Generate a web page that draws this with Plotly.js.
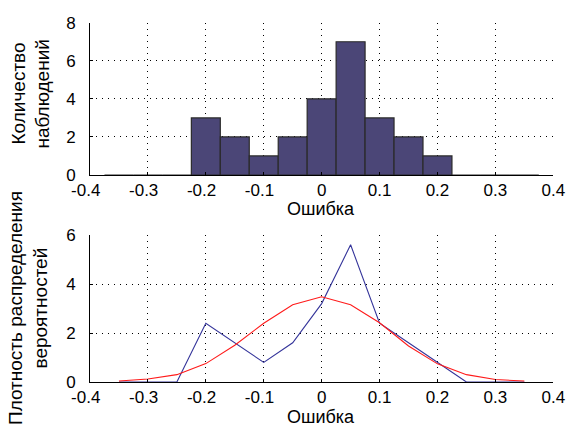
<!DOCTYPE html>
<html>
<head>
<meta charset="utf-8">
<script src="https://cdn.plot.ly/plotly-3.0.1.min.js"></script>
<style>html,body{margin:0;padding:0;background:#fff;}#chart{width:567px;height:428px;}</style>
</head>
<body>
<div id="chart"></div>
<script>
// Bin centers (error values)
const binCenters = [-0.35, -0.3, -0.25, -0.2, -0.15, -0.1, -0.05, 0, 0.05, 0.1, 0.15, 0.2, 0.25, 0.3, 0.35];
// Histogram counts
const counts = [0, 0, 0, 3, 2, 1, 2, 4, 7, 3, 2, 1, 0, 0, 0];
// Empirical density (blue line)
const empiricalDensity = [0, 0, 0, 2.4, 1.6, 0.8, 1.6, 3.2, 5.6, 2.4, 1.6, 0.8, 0, 0, 0];
// Normal density (red line)
const normalDensity = [0.04, 0.12, 0.3, 0.75, 1.5, 2.4, 3.15, 3.48, 3.15, 2.42, 1.47, 0.74, 0.3, 0.1, 0.04];

const xTickVals = [-0.4, -0.3, -0.2, -0.1, 0, 0.1, 0.2, 0.3, 0.4];
const xTickText = ['-0.4\u2002', '-0.3\u2002', '-0.2\u2002', '-0.1\u2002', '0', '0.1', '0.2', '0.3', '0.4'];
const yTopTicks = [0, 2, 4, 6, 8];
const yBotTicks = [0, 2, 4, 6];

const W = 567, H = 428;
const px = x => x / W;
const py = y => 1 - y / H;

const font = {family: "'Liberation Sans', Arial, sans-serif", size: 19, color: '#000'};
const xTitleFont = {family: "'Liberation Sans', Arial, sans-serif", size: 18, color: '#000'};
const tickFont = {family: "'Liberation Sans', Arial, sans-serif", size: 17, color: '#000'};

const xAxisCommon = {
  range: [-0.4, 0.4],
  tickmode: 'array', tickvals: xTickVals, ticktext: xTickText,
  showgrid: true, gridcolor: '#000', griddash: '1px,5px', gridwidth: 1,
  showline: true, linecolor: '#000', linewidth: 1,
  ticks: 'inside', ticklen: 3, tickcolor: '#000',
  zeroline: false, tickfont: tickFont, fixedrange: true,
  ticklabelstandoff: 0,
  domain: [px(90), px(553.3)]
};
const yAxisCommon = {
  showgrid: true, gridcolor: '#000', griddash: '1px,5px', gridwidth: 1,
  showline: true, linecolor: '#000', linewidth: 1,
  ticks: 'inside', ticklen: 3, tickcolor: '#000',
  zeroline: false, tickfont: tickFont, fixedrange: true,
  ticklabelstandoff: 10
};

const traces = [
  {
    type: 'bar', x: binCenters, y: counts, width: 0.05,
    marker: {color: '#4b4677', line: {color: '#2a2a2a', width: 1.2}},
    xaxis: 'x', yaxis: 'y', hoverinfo: 'skip'
  },
  {
    type: 'scatter', mode: 'lines', x: binCenters, y: empiricalDensity,
    line: {color: '#34349a', width: 1.1},
    xaxis: 'x2', yaxis: 'y2', hoverinfo: 'skip'
  },
  {
    type: 'scatter', mode: 'lines', x: binCenters, y: normalDensity,
    line: {color: '#ff1a1a', width: 1.1},
    xaxis: 'x2', yaxis: 'y2', hoverinfo: 'skip'
  }
];

const layout = {
  width: W, height: H,
  margin: {l: 0, r: 0, t: 0, b: 0},
  paper_bgcolor: '#fff', plot_bgcolor: '#fff',
  showlegend: false, bargap: 0, font: font,
  xaxis: Object.assign({}, xAxisCommon, {anchor: 'y'}),
  yaxis: Object.assign({}, yAxisCommon, {range: [0, 8], tickvals: yTopTicks, tickmode: 'array',
    domain: [py(175), py(22.7)], anchor: 'x'}),
  xaxis2: Object.assign({}, xAxisCommon, {anchor: 'y2'}),
  yaxis2: Object.assign({}, yAxisCommon, {range: [0, 6], tickvals: yBotTicks, tickmode: 'array',
    domain: [py(382), py(235)], anchor: 'x2'}),
  annotations: [
    {text: 'Ошибка', x: px(321), y: py(209), xref: 'paper', yref: 'paper', showarrow: false, xanchor: 'center', yanchor: 'middle', borderpad: 0, font: xTitleFont},
    {text: 'Ошибка', x: px(321), y: 0, xref: 'paper', yref: 'paper', showarrow: false, xanchor: 'center', yanchor: 'bottom', borderpad: 0, font: xTitleFont},
    {text: 'Количество', x: px(18.5), y: py(94), xref: 'paper', yref: 'paper', showarrow: false, xanchor: 'center', yanchor: 'middle', textangle: -90, font: font},
    {text: 'наблюдений', x: px(42.5), y: py(94), xref: 'paper', yref: 'paper', showarrow: false, xanchor: 'center', yanchor: 'middle', textangle: -90, font: font},
    {text: 'Плотность распределения', x: px(15), y: py(308), xref: 'paper', yref: 'paper', showarrow: false, xanchor: 'center', yanchor: 'middle', textangle: -90, font: font},
    {text: 'вероятностей', x: px(39.5), y: py(308), xref: 'paper', yref: 'paper', showarrow: false, xanchor: 'center', yanchor: 'middle', textangle: -90, font: font}
  ]
};

Plotly.newPlot('chart', traces, layout, {staticPlot: true, displayModeBar: false});
</script>
</body>
</html>
